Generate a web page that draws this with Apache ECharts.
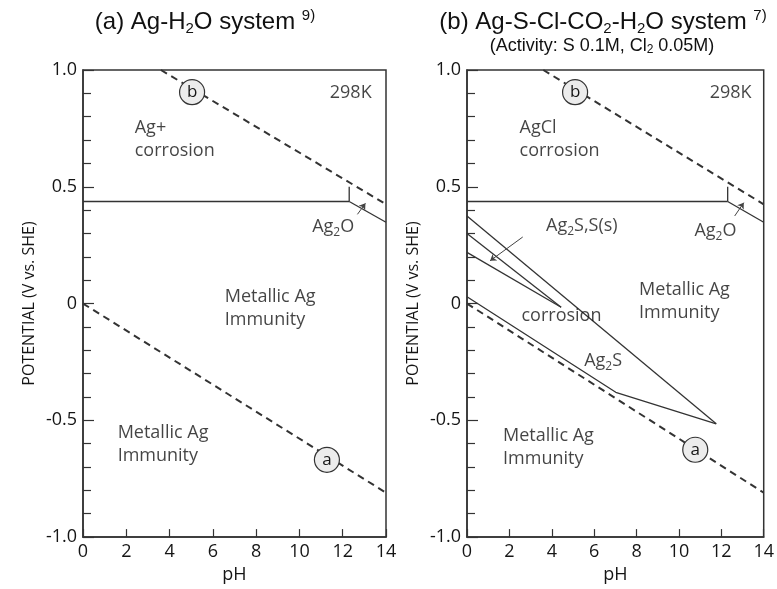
<!DOCTYPE html>
<html><head><meta charset="utf-8">
<script src="https://cdn.jsdelivr.net/npm/echarts@6/dist/echarts.min.js"></script>
<style>html,body{margin:0;padding:0;background:#fff}#c{width:777px;height:589px}</style>
</head><body><div id="c"></div>
<script>
// ---------- data ----------
const xTicks = [0, 2, 4, 6, 8, 10, 12, 14];
const yTicks = [-1.0, -0.5, 0, 0.5, 1.0];
// common boundaries (pH, potential V)
const lineB = [[3.6, 1.0], [14, 0.425]];            // O2 / H2O (dashed b)
const lineA = [[0, 0.0], [14, -0.81]];              // H2 / H2O (dashed a)
const agHoriz = [[0, 0.437], [12.3, 0.437]];
const ag2oVert = [[12.3, 0.437], [12.3, 0.5]];
const ag2oRight = [[12.3, 0.437], [14, 0.348]];
// panel b sulfide boundaries
const ag2sUpper = [[0, 0.375], [11.76, -0.515]];
const sLine2 = [[0, 0.30], [4.44, -0.016]];
const sLine3 = [[0, 0.219], [4.44, -0.016]];
const ag2sLower = [[0, 0.029], [7.02, -0.38], [11.76, -0.515]];
// circled markers
const circlesA = [[5.04, 0.905, 'b'], [11.27, -0.669, 'a']];
const circlesB = [[5.1, 0.905, 'b'], [10.77, -0.626, 'a']];
// annotations [pH, V, text, align]
const labelsA = [
  [2.39, 0.705, 'Ag+\ncorrosion', 'left'],
  [12.37, 0.904, '298K', 'center'],
  [6.55, -0.019, 'Metallic Ag\nImmunity', 'left'],
  [1.6, -0.605, 'Metallic Ag\nImmunity', 'left'],
  [11.56, 0.327, 'Ag{s|2}O', 'center']
];
const labelsB = [
  [2.48, 0.705, 'AgCl\ncorrosion', 'left'],
  [12.44, 0.904, '298K', 'center'],
  [3.73, 0.331, 'Ag{s|2}S,S(s)', 'left'],
  [2.57, -0.053, 'corrosion', 'left'],
  [8.12, 0.009, 'Metallic Ag\nImmunity', 'left'],
  [5.53, -0.246, 'Ag{s|2}S', 'left'],
  [11.72, 0.31, 'Ag{s|2}O', 'center'],
  [1.7, -0.617, 'Metallic Ag\nImmunity', 'left']
];
// arrows [[from],[to]]
const arrowsA = [[[12.68, 0.382], [13.05, 0.429]]];
const arrowsB = [[[12.63, 0.375], [13.06, 0.432]], [[2.63, 0.285], [1.09, 0.183]]];

// ---------- styles ----------
const INK = '#333';
const TXT = '#151515';
const FONT = 'Open Sans';
const TFONT = 'Liberation Sans';

function xAxis(gi) {
  return {
    gridIndex: gi, type: 'value', min: 0, max: 14, interval: 2,
    name: 'pH', nameLocation: 'middle', nameGap: 28,
    nameTextStyle: { fontFamily: FONT, fontSize: 18, color: TXT },
    axisLine: { show: true, onZero: false, lineStyle: { color: INK, width: 1.5 } },
    axisTick: { show: true, inside: true, length: 8, lineStyle: { color: INK, width: 1.2 } },
    axisLabel: { fontFamily: FONT, fontSize: 18, color: TXT, margin: 6,
      formatter: v => xTicks.includes(v) ? String(v) : '' },
    splitLine: { show: false }
  };
}
function yAxis(gi) {
  return {
    gridIndex: gi, type: 'value', min: -1, max: 1, interval: 0.5,
    name: 'POTENTIAL (V vs. SHE)', nameLocation: 'middle', nameGap: 46, nameRotate: 90,
    nameTextStyle: { fontFamily: FONT, fontSize: 16, color: TXT },
    axisLine: { show: true, onZero: false, lineStyle: { color: INK, width: 1.5 } },
    axisTick: { show: true, inside: true, length: 11, lineStyle: { color: INK, width: 1.2 } },
    minorTick: { show: true, splitNumber: 5, length: 8, lineStyle: { color: INK, width: 1.2 } },
    axisLabel: { fontFamily: FONT, fontSize: 18, color: TXT, margin: 6,
      formatter: v => { const t = yTicks.find(k => Math.abs(k - v) < 1e-9);
        return t === undefined ? '' : (t === 0 ? '0' : t.toFixed(1)); } },
    splitLine: { show: false }
  };
}
function seg(data, gi, dashed) {
  return { type: 'line', xAxisIndex: gi, yAxisIndex: gi, data: data, symbol: 'none',
    silent: true, animation: false, z: 3,
    lineStyle: { color: INK, width: dashed ? 2 : 1.3, type: dashed ? [7, 5] : 'solid' } };
}
function circles(list, gi) {
  return { type: 'scatter', xAxisIndex: gi, yAxisIndex: gi, symbol: 'circle', symbolSize: 25,
    z: 5, animation: false,
    itemStyle: { color: '#ececec', borderColor: INK, borderWidth: 1.2, opacity: 1 },
    label: { show: true, position: 'inside', formatter: p => p.data[2],
      fontFamily: FONT, fontSize: 17, color: TXT },
    data: list.map(c => [c[0], c[1], c[2]]) };
}
function texts(list, gi) {
  return { type: 'scatter', xAxisIndex: gi, yAxisIndex: gi, symbolSize: 0, z: 6, animation: false,
    data: list.map(l => ({ value: [l[0], l[1]],
      label: { show: true, position: 'inside', align: l[3], verticalAlign: 'middle',
        formatter: l[2], fontFamily: FONT, fontSize: 18, lineHeight: 23, color: TXT,
        rich: { s: { fontFamily: FONT, fontSize: 12, lineHeight: 23, verticalAlign: 'bottom', color: TXT } } } })) };
}
function arrows(list, gi) {
  return { type: 'lines', coordinateSystem: 'cartesian2d', xAxisIndex: gi, yAxisIndex: gi,
    symbol: ['none', 'arrow'], symbolSize: 6, z: 6, animation: false,
    lineStyle: { color: '#444', width: 1, opacity: 1 },
    data: list.map(a => ({ coords: a })) };
}

const series = [];
[0, 1].forEach(gi => {
  series.push(seg(lineB, gi, true), seg(lineA, gi, true), seg(agHoriz, gi), seg(ag2oVert, gi), seg(ag2oRight, gi));
});
series.push(seg(ag2sUpper, 1), seg(sLine2, 1), seg(sLine3, 1), seg(ag2sLower, 1));
series.push(circles(circlesA, 0), circles(circlesB, 1));
series.push(texts(labelsA, 0), texts(labelsB, 1));
series.push(arrows(arrowsA, 0), arrows(arrowsB, 1));

const chart = echarts.init(document.getElementById('c'), null, { renderer: 'canvas' });
chart.setOption({
  animation: false,
  backgroundColor: '#fff',
  grid: [
    { left: 83, top: 70, width: 303, height: 468, show: true, borderColor: INK, borderWidth: 1.5, backgroundColor: 'transparent' },
    { left: 467, top: 70, width: 303, height: 468, show: true, borderColor: INK, borderWidth: 1.5, backgroundColor: 'transparent' }
  ],
  xAxis: [xAxis(0), xAxis(1)],
  yAxis: [yAxis(0), yAxis(1)],
  graphic: [
    { type: 'text', x: 205, y: 22, style: { text: '(a) Ag-H{s|2}O system {p|9)}', align: 'center', verticalAlign: 'middle',
      font: '24px ' + TFONT, fill: '#111',
      rich: { s: { fontSize: 15, fontFamily: TFONT, verticalAlign: 'bottom', lineHeight: 28 }, p: { fontSize: 15, fontFamily: TFONT, verticalAlign: 'top', lineHeight: 28 } } } },
    { type: 'text', x: 603, y: 22, style: { text: '(b) Ag-S-Cl-CO{s|2}-H{s|2}O system {p|7)}', align: 'center', verticalAlign: 'middle',
      font: '24px ' + TFONT, fill: '#111',
      rich: { s: { fontSize: 15, fontFamily: TFONT, verticalAlign: 'bottom', lineHeight: 28 }, p: { fontSize: 15, fontFamily: TFONT, verticalAlign: 'top', lineHeight: 28 } } } },
    { type: 'text', x: 602, y: 46, style: { text: '(Activity: S 0.1M, Cl{s|2} 0.05M)', align: 'center', verticalAlign: 'middle',
      font: '18px ' + TFONT, fill: '#111',
      rich: { s: { fontSize: 12, fontFamily: TFONT, verticalAlign: 'bottom', lineHeight: 20 } } } }
  ],
  series: series
});
</script></body></html>
